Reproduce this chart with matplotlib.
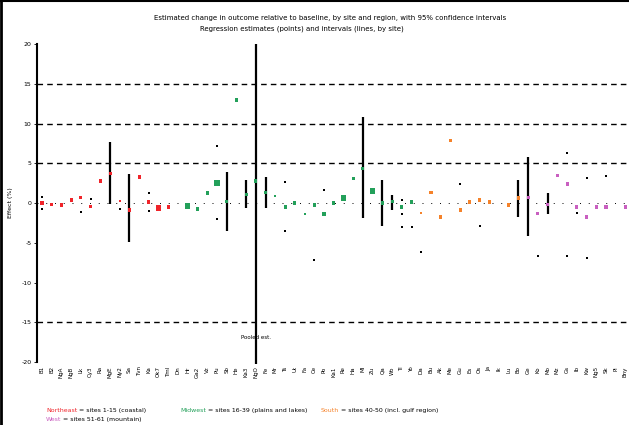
import numpy as np
import matplotlib
matplotlib.use('Agg')
import matplotlib.pyplot as plt
from matplotlib.lines import Line2D

# site labels (one per position on the x axis)
sites = ['B1', 'B2', 'NgA', 'NgB', 'Lk', 'Cy3', 'Ra', 'MgE', 'Ny2', 'Sa', 'Tvn', 'Ka', 'Ok7', 'Tml', 'Dn',
         'Hr', 'Ga2', 'Vz', 'Pu', 'Sb', 'He', 'Ka3', 'NgO', 'Fe', 'Mr', 'Ts', 'Ut', 'Fa', 'Ce', 'Po',
         'Ka1', 'Re', 'Ha', 'Ml', 'Zu', 'Qa', 'Wo', 'Ti', 'Yo', 'Da', 'Bu', 'Ak', 'Me', 'Gu', 'Es',
         'Os', 'Ja', 'Ik', 'Lu', 'Bo', 'Ge', 'Ko', 'Mo', 'Mz', 'Gs', 'Ib', 'Kw', 'Ng5', 'Sk', 'Pi', 'Bny']

# point estimates (nan = no estimate)
est = [0.0, -0.13, -0.25, 0.38, 0.75, -0.38, 2.77, 3.77, 0.25, -0.88, 3.27, 0.13, -0.63, -0.5, np.nan,
       -0.38, -0.75, 1.26, 2.52, 0.25, 12.96, 1.13, 2.77, 1.38, 0.88, -0.5, 0.0, -1.38, -0.25, -1.38,
       0.0, 0.63, 3.14, 4.4, 1.51, 0.0, 0.25, -0.5, 0.13, -1.26, 1.38, -1.76, 7.92, -0.88, 0.13,
       0.38, 0.13, np.nan, -0.25, 0.63, 0.75, -1.26, -0.13, 3.52, 2.39, -0.5, -1.76, -0.5, -0.5, np.nan, -0.5]

# relative weight of each estimate (marker size)
weight = [3, 3, 3, 3, 3, 3, 3, 3, 2, 3, 3, 3, 5, 3, 0,
          5, 3, 3, 5, 3, 3, 3, 3, 3, 2, 3, 3, 2, 3, 3,
          3, 5, 3, 3, 5, 3, 3, 3, 3, 2, 3, 3, 3, 3, 3,
          3, 3, 0, 3, 3, 3, 3, 3, 3, 3, 3, 3, 3, 3, 0, 3]

# region of each site
region = ['NE'] * 15 + ['MW'] * 24 + ['S'] * 11 + ['W'] * 11
region_colors = {'NE': '#f0242a', 'MW': '#23a05a', 'S': '#f5822a', 'W': '#c95fc0'}

# confidence intervals (site index, low, high)
ci_site = [7, 9, 19, 21, 22, 23, 33, 35, 36, 49, 50, 52]
ci_low = [-0.13, -4.9, -3.52, -0.63, -20.3, -0.63, -1.89, -2.89, -0.88, -1.76, -4.15, -1.38]
ci_high = [7.67, 3.65, 3.9, 2.89, 20.0, 3.27, 10.82, 2.89, 1.0, 2.89, 5.79, 1.26]

# single-site comparison estimates (black dots)
cmp_site = [0, 0, 4, 5, 8, 11, 11, 18, 18, 25, 25, 28, 29, 37, 37, 37, 38, 39, 43, 45, 51, 54, 54, 55, 56, 56, 58]
cmp_val = [0.75, -0.75, -1.13, 0.5, -0.75, 1.26, -1.0, 7.17, -2.0, 2.64, -3.52, -7.17, 1.63, 0.38, -1.38, -3.0,
           -3.0, -6.16, 2.39, -2.89, -6.67, 6.29, -6.67, -1.26, 3.14, -6.92, 3.4]

ref_lines = [15, 10, 5, -15]
yticks = [20, 15, 10, 5, 0, -5, -10, -15, -20]

fig = plt.figure(figsize=(6.29, 4.25), dpi=100)
ax = fig.add_axes([0.059, 0.148, 0.94, 0.7485])

x = np.arange(len(sites))

for v in ref_lines:
    ax.axhline(v, color='black', lw=1.0, ls=(0, (4, 3)), zorder=1)
ax.axhline(0, color='black', lw=0.7, ls=(0, (1, 8)), zorder=1)

for i, lo, hi in zip(ci_site, ci_low, ci_high):
    ax.plot([x[i], x[i]], [lo, hi], color='black', lw=1.6, zorder=2, clip_on=False,
            solid_capstyle='butt')

ax.scatter(x[cmp_site], cmp_val, s=4, color='black', marker='s', zorder=3, linewidths=0)

for r, c in region_colors.items():
    idx = [i for i in range(len(sites)) if region[i] == r and not np.isnan(est[i])]
    ax.scatter(x[idx], [est[i] for i in idx], s=[weight[i] ** 2 * 0.55 for i in idx],
               color=c, marker='s', zorder=4, linewidths=0)

ax.text(22, -16.9, 'Pooled est.', fontsize=4, ha='center', va='center', zorder=5)

ax.set_xlim(-0.5, 60.3)
ax.set_ylim(-20, 20)
ax.set_yticks(yticks)
ax.set_yticklabels([str(t) for t in yticks], fontsize=4.5)
ax.set_xticks(x)
ax.set_xticklabels(sites, rotation=90, fontsize=4)
ax.tick_params(axis='y', length=2, width=0.6, pad=2)
ax.tick_params(axis='x', length=0, pad=3)
ax.set_ylabel('Effect (%)', fontsize=4.5, labelpad=6)
for s in ['top', 'right', 'bottom']:
    ax.spines[s].set_visible(False)
ax.spines['left'].set_linewidth(1.5)

fig.text(0.525, 0.958, 'Estimated change in outcome relative to baseline, by site and region, with 95% confidence intervals',
         fontsize=5, ha='center', va='center')
fig.text(0.48, 0.933, 'Regression estimates (points) and intervals (lines, by site)',
         fontsize=5, ha='center', va='center')

# legend as text rows at the bottom
leg = [('Northeast', ' = sites 1-15 (coastal)', 0.073, 0.033),
       ('Midwest', ' = sites 16-39 (plains and lakes)', 0.287, 0.033),
       ('South', ' = sites 40-50 (incl. gulf region)', 0.51, 0.033),
       ('West', ' = sites 51-61 (mountain)', 0.073, 0.012)]
reg_keys = ['NE', 'MW', 'S', 'W']
for (name, desc, lx, ly), k in zip(leg, reg_keys):
    t = fig.text(lx, ly, name, fontsize=4.5, color=region_colors[k], va='center')
    fig.canvas.draw()
    bb = t.get_window_extent()
    fig.text(bb.x1 / fig.bbox.width, ly, desc, fontsize=4.5, color='black', va='center')

fig.add_artist(Line2D([0.002, 0.002], [0, 1], transform=fig.transFigure, color='black', lw=2))
fig.add_artist(Line2D([0, 1], [0.998, 0.998], transform=fig.transFigure, color='black', lw=1.5))

fig.savefig('out.png', dpi=100)
